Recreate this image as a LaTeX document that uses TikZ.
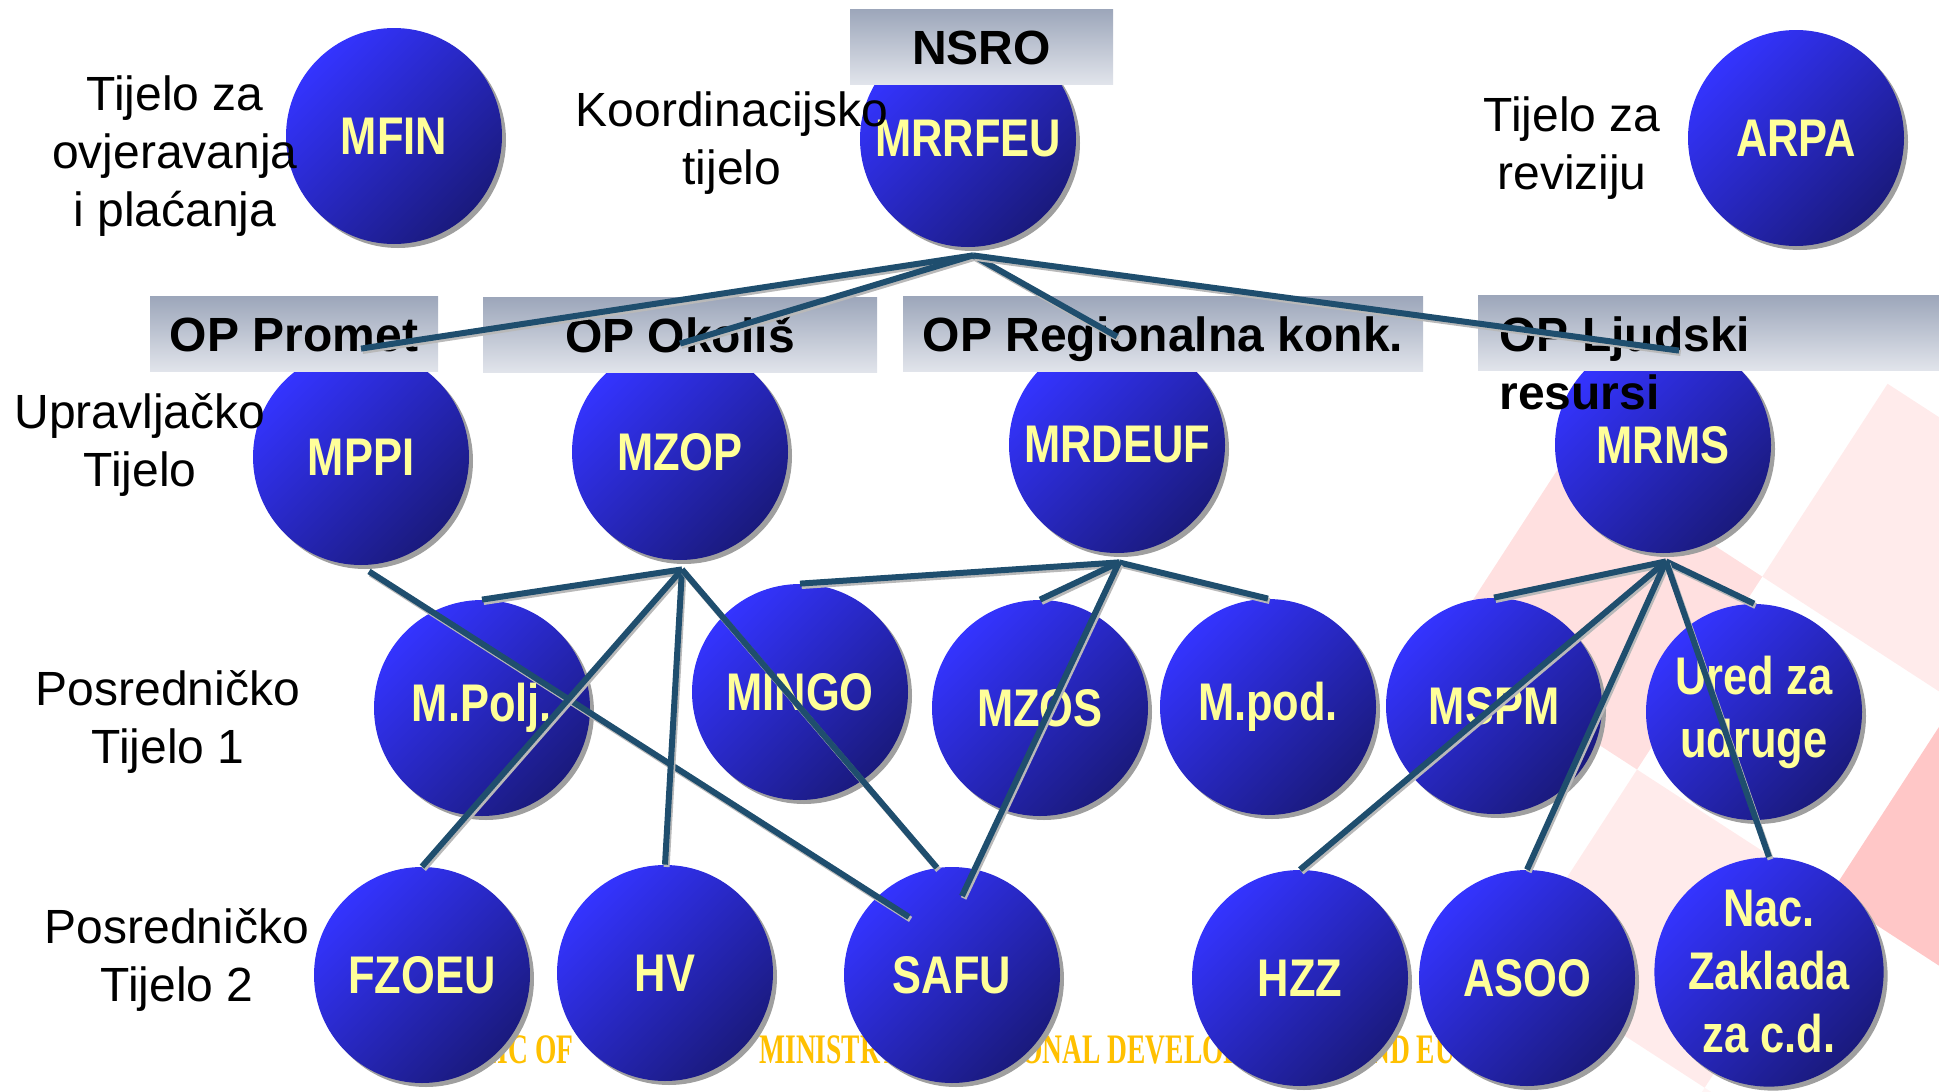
\documentclass[tikz,border=0pt]{standalone}
\usepackage{fontspec}
\setmainfont{Liberation Sans}
\newfontfamily\narrowsans[FakeStretch=0.82]{Liberation Sans}
\newfontfamily\narrowserif[FakeStretch=0.655]{Liberation Serif}
\usepackage{xcolor}
\usepackage{tikz}
\usetikzlibrary{positioning, calc, shadows}
\definecolor{bodyblue}{RGB}{52,52,255}
\definecolor{bodynavy}{RGB}{26,26,125}
\definecolor{labelyellow}{RGB}{255,255,153}
\definecolor{linkblue}{RGB}{31,78,110}
\definecolor{headtop}{RGB}{156,166,186}
\definecolor{headbottom}{RGB}{225,228,235}
\definecolor{footgold}{RGB}{255,192,0}
\tikzset{
    body/.style={
        circle,
        minimum size=108pt,
        inner sep=0pt,
        top color=bodyblue,
        bottom color=bodynavy,
        shading angle=45,
        drop shadow={shadow xshift=2pt, shadow yshift=-2pt, fill=gray!75, opacity=1},
        text=labelyellow,
        align=center,
        font=\narrowsans\bfseries\fontsize{26.5}{31.5}\selectfont
    },
    header/.style={
        rectangle,
        inner sep=0pt,
        minimum height=37.5pt,
        text height=17.5pt,
        text depth=0pt,
        top color=headtop,
        bottom color=headbottom,
        font=\bfseries\fontsize{24}{29}\selectfont
    },
    tier/.style={
        align=center,
        inner sep=0pt,
        font=\fontsize{24}{29}\selectfont
    },
    link/.style={
        draw=linkblue,
        line width=3pt,
        preaction={draw=gray!55, line width=3pt, transform canvas={shift={(0.8pt,-1.2pt)}}}
    },
    footer/.style={
        anchor=base west,
        inner sep=0pt,
        text=footgold,
        font=\narrowserif\bfseries\fontsize{21}{25}\selectfont
    }
}

\begin{document}
\begin{tikzpicture}[x=0.5pt, y=-0.5pt]
\useasboundingbox (0,0) rectangle (1939,1092);

% Faint checkerboard watermark (lower right)
\begin{scope}[shift={(1989,861)}, rotate=-33]
  \foreach \i in {-5,...,0} {
    \foreach \j in {-3,...,2} {
      \pgfmathtruncatemacro{\odd}{mod(\i+\j+10,2)}
      \pgfmathsetmacro{\op}{0.22-0.05*abs(\i)-0.09*abs(\j)}
      \pgfmathtruncatemacro{\show}{\op>0.035 ? 1 : 0}
      \ifnum\odd=0 \ifnum\show=1
        \fill[red, opacity=\op] (\i*230-115,\j*230-115) rectangle ++(230,230);
      \fi\fi
    }
  }
\end{scope}

% Footer text behind the bodies
\node[footer] (foot_rep) at (386,1063) {REPUBLIC OF};
\node[footer] (foot_min) at (759,1063) {MINISTRY OF REGIONAL DEVELOPMENT};
\node[footer] (foot_eu) at (1350,1063) {AND EU};

% Top row
\node[body] (mfin) at (394,136) {MFIN};
\node[body] (mrrfeu) at (968,139) {MRRFEU};
\node[body] (arpa) at (1796,138) {ARPA};

% Managing bodies
\node[body] (mppi) at (361,457) {MPPI};
\node[body] (mzop) at (680,452) {MZOP};
\node[body] (mrdeuf) at (1117,445) {MRDEUF};
\node[body] (mrms) at (1663,445) {MRMS};

% Intermediate bodies 1
\node[body] (m_polj) at (482,708) {M.Polj.};
\node[body] (mingo) at (800,692) {MINGO};
\node[body] (mzos) at (1040,708) {MZOS};
\node[body] (m_pod) at (1268,707) {M.pod.};
\node[body] (mspm) at (1494,706) {MSPM};
\node[body] (ured) at (1754,712) {Ured za\\udruge};

% Intermediate bodies 2
\node[body] (fzoeu) at (422,975) {FZOEU};
\node[body] (hv) at (665,973) {HV};
\node[body] (safu) at (952,975) {SAFU};
\node[body] (hzz) at (1300,978) {HZZ};
\node[body] (asoo) at (1527,978) {ASOO};
\node[body] (nac_zaklada) at (1769,972) {Nac.\\Zaklada\\za c.d.};

% Programme headers
\node[header, minimum width=131.5pt] (nsro_hdr) at (981.5,46.5) {NSRO};
\node[header, minimum width=144pt] (promet_hdr) at (294,333.5) {OP Promet};
\node[header, minimum width=197pt] (okolis_hdr) at (680,334.5) {OP Okoliš};
\node[header, minimum width=260pt] (regional_hdr) at (1163,333.5) {OP Regionalna konk.};
\node[header, minimum width=230.5pt] (ljudski_hdr) at (1708.5,332.5) {};
\node[tier, font=\bfseries\fontsize{24}{29}\selectfont, align=left, anchor=north west] (ljudski_lbl) at (1499,316) {OP Ljudski\\resursi};

% Tier labels
\node[tier] (cert_lbl) at (175,156) {Tijelo za\\ovjeravanja\\i plaćanja};
\node[tier] (coord_lbl) at (732,143) {Koordinacijsko\\tijelo};
\node[tier] (audit_lbl) at (1572,148) {Tijelo za\\reviziju};
\node[tier] (mgmt_lbl) at (140,445) {Upravljačko\\Tijelo};
\node[tier] (ib1_lbl) at (168,722) {Posredničko\\Tijelo 1};
\node[tier] (ib2_lbl) at (177,960) {Posredničko\\Tijelo 2};

% Hub points below the parent bodies
\coordinate (mrrfeu_hub) at ($(mrrfeu.south)+(5,8)$);
\coordinate (mppi_hub) at ($(mppi.south)+(8,6)$);
\coordinate (mzop_hub) at ($(mzop.south)+(2,9)$);
\coordinate (mrdeuf_hub) at ($(mrdeuf.south)+(2,9)$);
\coordinate (mrms_hub) at ($(mrms.south)+(3,8)$);

% Coordinating body to managing bodies
\draw[link] (mrrfeu_hub) -- (mppi.north);
\draw[link] (mrrfeu_hub) -- (mzop.north);
\draw[link] (mrrfeu_hub) -- (mrdeuf.north);
\draw[link] (mrrfeu_hub) -- ($(mrms.north)+(16,14)$);

% Managing bodies to intermediate bodies
\draw[link] (mppi_hub) -- ($(safu.center)+(-43,-58)$);
\draw[link] (mzop_hub) -- (m_polj.north);
\draw[link] (mzop_hub) -- (fzoeu.north);
\draw[link] (mzop_hub) -- (hv.north);
\draw[link] (mzop_hub) -- (safu.98);
\draw[link] (mrdeuf_hub) -- (mingo.north);
\draw[link] (mrdeuf_hub) -- (mzos.north);
\draw[link] (mrdeuf_hub) -- (m_pod.north);
\draw[link] (mrdeuf_hub) -- ($(safu.center)+(10,-79)$);
\draw[link] (mrms_hub) -- (mspm.north);
\draw[link] (mrms_hub) -- (ured.north);
\draw[link] (mrms_hub) -- (hzz.north);
\draw[link] (mrms_hub) -- (asoo.north);
\draw[link] (mrms_hub) -- (nac_zaklada.north);

\end{tikzpicture}
\end{document}
